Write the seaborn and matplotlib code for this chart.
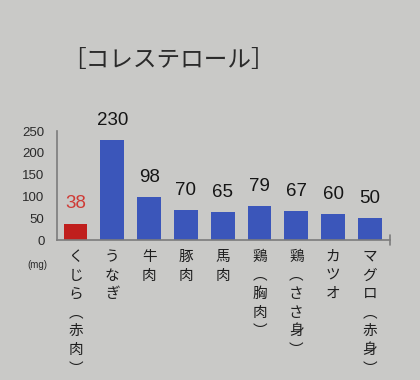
import matplotlib
matplotlib.use("Agg")
import matplotlib.pyplot as plt
import seaborn as sns

# data (mg of cholesterol)
foods = ["くじら（赤肉）", "うなぎ", "牛肉", "豚肉", "馬肉",
         "鶏（胸肉）", "鶏（ささ身）", "カツオ", "マグロ（赤身）"]
values = [38, 230, 98, 70, 65, 79, 67, 60, 50]
bar_colors = ["#c01f1d"] + ["#3b56ba"] * 8
label_colors = ["#cf3b36"] + ["#151515"] * 8
yticks = [0, 50, 100, 150, 200, 250]

bg = "#c9c9c7"
axis_grey = "#7c7c7c"

sns.set_style("white")
plt.rcParams["font.family"] = ["Liberation Sans", "Noto Sans CJK JP", "DejaVu Sans"]


def vertical(s):
    # write a label top to bottom, with vertical brackets
    s = s.replace("（", "\ufe35").replace("）", "\ufe36")
    return "\n".join(s)


fig = plt.figure(figsize=(4.2, 3.8), dpi=100, facecolor=bg)
ax = fig.add_axes([0.136, 0.368, 0.793, 0.287])
ax.set_facecolor(bg)

sns.barplot(x=foods, y=values, hue=foods, palette=bar_colors, legend=False,
            width=0.65, saturation=1, linewidth=0, ax=ax)

ax.set_xlim(-0.5, 8.55)
ax.set_ylim(0, 250)
ax.set_yticks(yticks)
ax.set_yticklabels([str(t) for t in yticks], fontsize=9.5, color="#2a2a2a")
ax.tick_params(axis="y", direction="inout", length=6, width=1, color=axis_grey, pad=6)

ax.set_xticks(range(len(foods)))
ax.set_xticklabels([vertical(f) for f in foods], family=["Noto Sans CJK JP"],
                   fontsize=10.5, color="#1e1e1e", va="top", linespacing=1.42)
ax.tick_params(axis="x", length=0, pad=7)
ax.set_xticks([i + 0.5 for i in range(len(foods) - 1)], minor=True)
ax.tick_params(axis="x", which="minor", direction="inout", length=6, width=1, color=axis_grey)
ax.axvline(8.55, ymin=-0.045, ymax=0.045, color=axis_grey, lw=1.2, clip_on=False)

for side in ["top", "right"]:
    ax.spines[side].set_visible(False)
for side in ["left", "bottom"]:
    ax.spines[side].set_color(axis_grey)
    ax.spines[side].set_linewidth(1.2)

ax.set_xlabel("")
ax.set_ylabel("")

for i, v in enumerate(values):
    ax.annotate(str(v), xy=(i, v), xytext=(0, 8), textcoords="offset points",
                ha="center", va="bottom", fontsize=13.5, color=label_colors[i])

fig.text(0.148, 0.84, "［コレステロール］", family=["Noto Sans CJK JP"],
         fontsize=17, color="#2a2a2a", va="center", ha="left")
fig.text(0.065, 0.302, "(mg)", fontsize=7, color="#2a2a2a", va="center", ha="left")

fig.savefig("out.png", dpi=100, facecolor=bg)
